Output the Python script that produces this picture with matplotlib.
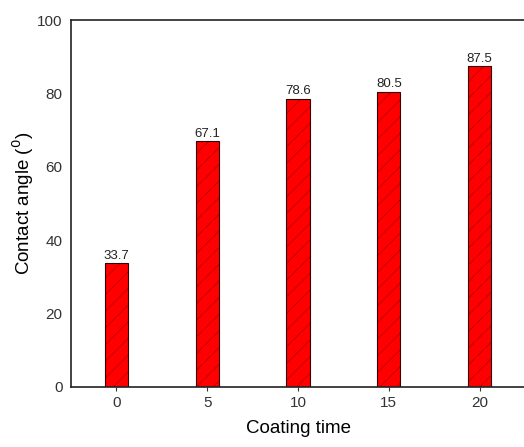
import matplotlib
matplotlib.use('Agg')
import matplotlib.pyplot as plt

plt.rcParams['font.family'] = ['Liberation Sans', 'DejaVu Sans']
plt.rcParams['hatch.linewidth'] = 0.7

# data
coating_time = [0, 5, 10, 15, 20]
contact_angle = [33.7, 67.1, 78.6, 80.5, 87.5]
labels = ['33.7', '67.1', '78.6', '80.5', '87.5']

fig = plt.figure(figsize=(5.24, 4.47), dpi=100)
ax = fig.add_axes([71/524, 1 - 387/447, 454/524, 367/447])

# fill with faint hatching, then a dark outline on top
ax.bar(coating_time, contact_angle, width=1.27, color='#ff0000',
       edgecolor='#c40000', linewidth=0, hatch='//')
ax.bar(coating_time, contact_angle, width=1.27, color='none',
       edgecolor='#300000', linewidth=0.8)
for x, y, s in zip(coating_time, contact_angle, labels):
    ax.text(x, y + 0.3, s, ha='center', va='bottom', fontsize=9.5, color='#222222')

ax.set_xlim(-2.5, 22.5)
ax.set_ylim(0, 100)
ax.set_xticks(coating_time)
ax.set_yticks([0, 20, 40, 60, 80, 100])
ax.tick_params(axis='both', labelsize=11, colors='#333333', length=3)
ax.tick_params(axis='y', length=0, pad=6)
ax.set_xlabel('Coating time', fontsize=13.5, labelpad=7)
ax.set_ylabel('Contact angle ($^0$)', fontsize=13.5, labelpad=1)
for sp in ax.spines.values():
    sp.set_linewidth(1.2)
    sp.set_color('#222222')

fig.savefig('out.png', dpi=100)
